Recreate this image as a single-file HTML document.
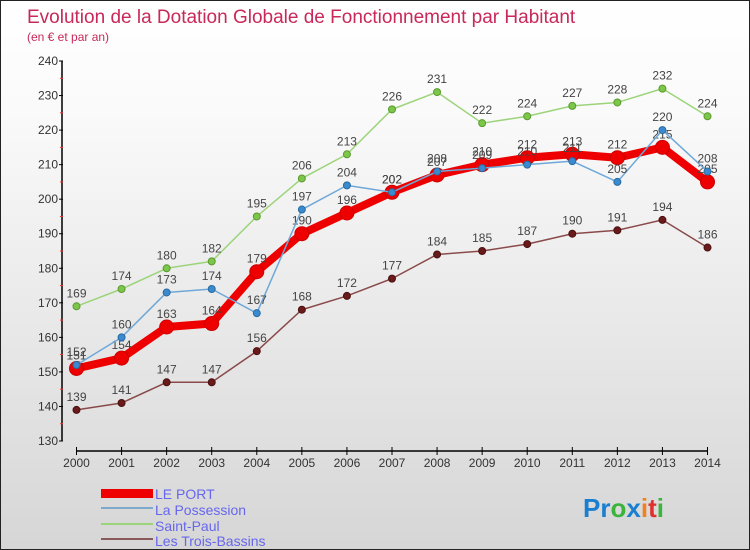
<!DOCTYPE html>
<html><head><meta charset="utf-8"><style>
body{margin:0;}
#c{width:750px;height:550px;position:relative;box-sizing:border-box;border:1px solid #222;background:linear-gradient(#fff,#fafafa 20%,#d6d6d6 100%);font-family:"Liberation Sans",sans-serif;overflow:hidden}
svg text{font-family:"Liberation Sans",sans-serif}
</style></head><body>
<div id="c">
<svg id="s" width="750" height="550">
<text x="26" y="22" font-size="19" fill="#c8285a">Evolution de la Dotation Globale de Fonctionnement par Habitant</text>
<text x="26" y="40" font-size="12" fill="#c8285a">(en € et par an)</text>
<g id="axes"></g><g id="series"></g>
<g>
<rect x="100" y="488" width="52" height="9" fill="#e00"/>
<text x="154" y="498" font-size="14" fill="#6666ee">LE PORT</text>
<rect x="100" y="506" width="52" height="2" fill="#7ea9cc"/>
<text x="154" y="514" font-size="14" fill="#6666ee">La Possession</text>
<rect x="100" y="522" width="52" height="2" fill="#9cd47a"/>
<text x="154" y="530" font-size="14" fill="#6666ee">Saint-Paul</text>
<rect x="100" y="537" width="52" height="2" fill="#8a5a5a"/>
<text x="154" y="545" font-size="14" fill="#6666ee">Les Trois-Bassins</text>
</g>
<text x="582" y="516" font-size="26" font-weight="bold"><tspan fill="#1a7fd0">Pr</tspan><tspan fill="#3bb43b">o</tspan><tspan fill="#1a7fd0">x</tspan><tspan fill="#f08020">i</tspan><tspan fill="#e03030">t</tspan><tspan fill="#3bb43b">i</tspan></text>
</svg></div>
<script>
const years=[2000,2001,2002,2003,2004,2005,2006,2007,2008,2009,2010,2011,2012,2013,2014];
const yTicks=[130,140,150,160,170,180,190,200,210,220,230,240];
const lePort=[151,154,163,164,179,190,196,202,207,210,212,213,212,215,205];
const laPossession=[152,160,173,174,167,197,204,202,208,209,210,211,205,220,208];
const saintPaul=[169,174,180,182,195,206,213,226,231,222,224,227,228,232,224];
const troisBassins=[139,141,147,147,156,168,172,177,184,185,187,190,191,194,186];
const NS="http://www.w3.org/2000/svg";
function X(i){return 75.5+i*(706.5-75.5)/(years.length-1);}
function Y(v){return 440-(v-130)*(380/110);}
function mk(t,a,p){const e=document.createElementNS(NS,t);for(const k in a)e.setAttribute(k,a[k]);p.appendChild(e);return e;}
const ax=document.getElementById('axes');
let e=mk('line',{x1:61,y1:Y(240),x2:61,y2:Y(130),stroke:'#000','stroke-width':1.5},ax);


yTicks.forEach(v=>{
 let t=mk('line',{x1:58,y1:Y(v),x2:62,y2:Y(v),stroke:'#000'},ax);
 
 
 if(v<240){let m=mk('line',{x1:59,y1:Y(v+5),x2:62,y2:Y(v+5),stroke:'#e33'},ax);
 
 }
 let l=mk('text',{x:57,y:Y(v)+4,'font-size':12,fill:'#333','text-anchor':'end'},ax);l.textContent=v;
 
 
});
e=mk('line',{x1:75,y1:450,x2:707,y2:450,stroke:'#000','stroke-width':1.5},ax);


years.forEach((y,i)=>{
 let t=mk('line',{x1:X(i),y1:446,x2:X(i),y2:454,stroke:'#000'},ax);
 
 
 let l=mk('text',{x:X(i),y:466,'font-size':12,fill:'#333','text-anchor':'middle'},ax);l.textContent=y;
 
 
});
const sg=document.getElementById('series');
function series(name,data,color,w,r,dot,stroke){
 const g=mk('g',{},sg);
 
 
 const p=mk('polyline',{points:data.map((v,i)=>X(i)+','+Y(v)).join(' '),fill:'none',stroke:color,'stroke-width':w,'stroke-linejoin':'round'},g);
 
 
 data.forEach((v,i)=>{
  const c=mk('circle',{cx:X(i),cy:Y(v),r:r,fill:dot,stroke:stroke,'stroke-width':1},g);
  
  
  const t=mk('text',{x:X(i),y:Y(v)-9,'font-size':12,fill:'#444','text-anchor':'middle'},g);t.textContent=v;
  
  
 });
}
series('saint-paul',saintPaul,'#9cd47a',1.5,3.5,'#7cc64a','#5a9a30');
series('les-trois-bassins',troisBassins,'#8a4a4a',1.5,3.5,'#6a1a1a','#4a1010');
series('le-port',lePort,'#ee0000',8,7,'#ee0000','#cc0000');
series('la-possession',laPossession,'#6fa8d8',1.5,3.5,'#3a8ad0','#2a6aa0');
</script>
</body></html>
